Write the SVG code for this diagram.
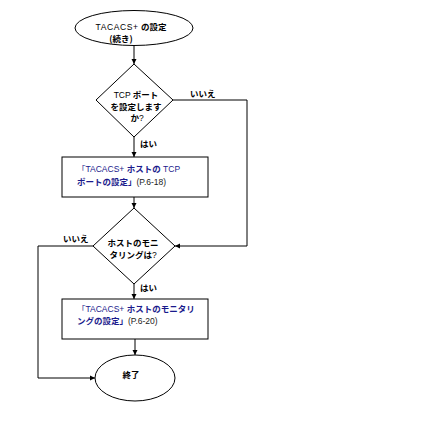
<svg xmlns="http://www.w3.org/2000/svg" width="428" height="443" viewBox="0 0 428 443">
<style>
.s{fill:#fff;stroke:#000;stroke-width:1}
.c{fill:none;stroke:#000;stroke-width:1}
text{font-family:"Liberation Sans","Noto Sans CJK JP",sans-serif;font-size:8.5px;fill:#000}
.j{font-family:"Noto Sans CJK JP",sans-serif;font-weight:bold}
.lk{fill:#1a1a8c}
.pg{fill:#222}
</style>
<defs>
<marker id="a" markerUnits="userSpaceOnUse" markerWidth="6" markerHeight="6" refX="5" refY="3" orient="auto">
<path d="M0,0.5 L5,3 L0,5.5 z" fill="#000"/>
</marker>
</defs>
<rect width="428" height="443" fill="#fff"/>
<g id="connectors">
<path class="c" d="M134,45 V64" marker-end="url(#a)"/>
<path class="c" d="M134,137 V157" marker-end="url(#a)"/>
<path class="c" d="M173,100 H247 V246 H175" marker-end="url(#a)"/>
<path class="c" d="M134,197 V208" marker-end="url(#a)"/>
<path class="c" d="M93,246 H38 V378 H95" marker-end="url(#a)"/>
<path class="c" d="M134,284 V299" marker-end="url(#a)"/>
<path class="c" d="M135,339 V355" marker-end="url(#a)"/>
<text x="190" y="97" class="j">いいえ</text>
<text x="140" y="147" class="j">はい</text>
<text x="63" y="242" class="j">いいえ</text>
<text x="140" y="291" class="j">はい</text>
</g>
<g id="start">
<ellipse class="s" cx="134" cy="28" rx="59" ry="17.5"/>
<text x="131" y="30" text-anchor="middle"><tspan letter-spacing="0.6">TACACS+</tspan> <tspan class="j">の設定</tspan></text>
<text x="121" y="41.5" text-anchor="middle" class="j">(続き)</text>
</g>
<g id="decision1">
<polygon class="s" points="134,64 173,100 134,137 96,100"/>
<text x="136" y="98" text-anchor="middle">TCP <tspan class="j">ポート</tspan></text>
<text x="136" y="110" text-anchor="middle" class="j">を設定します</text>
<text x="137" y="121" text-anchor="middle"><tspan class="j">か</tspan>?</text>
</g>
<g id="box1">
<rect class="s" x="62" y="157" width="146" height="40"/>
<text x="77" y="172" class="lk">「TACACS+ <tspan class="j">ホストの</tspan> TCP</text>
<text x="77" y="185"><tspan class="j lk">ポートの設定」</tspan><tspan class="pg">(P.6-18)</tspan></text>
</g>
<g id="decision2">
<polygon class="s" points="134,208 175,246 134,284 93,246"/>
<text x="133" y="246" text-anchor="middle" class="j">ホストのモニ</text>
<text x="133" y="258" text-anchor="middle"><tspan class="j">タリングは</tspan>?</text>
</g>
<g id="box2">
<rect class="s" x="62" y="299" width="146" height="40"/>
<text x="77" y="312" class="lk">「TACACS+ <tspan class="j">ホストのモニタリ</tspan></text>
<text x="77" y="324"><tspan class="j lk">ングの設定」</tspan><tspan class="pg">(P.6-20)</tspan></text>
</g>
<g id="end">
<ellipse class="s" cx="135" cy="378" rx="40" ry="23"/>
<text x="131" y="378" text-anchor="middle" class="j">終了</text>
</g>
</svg>
